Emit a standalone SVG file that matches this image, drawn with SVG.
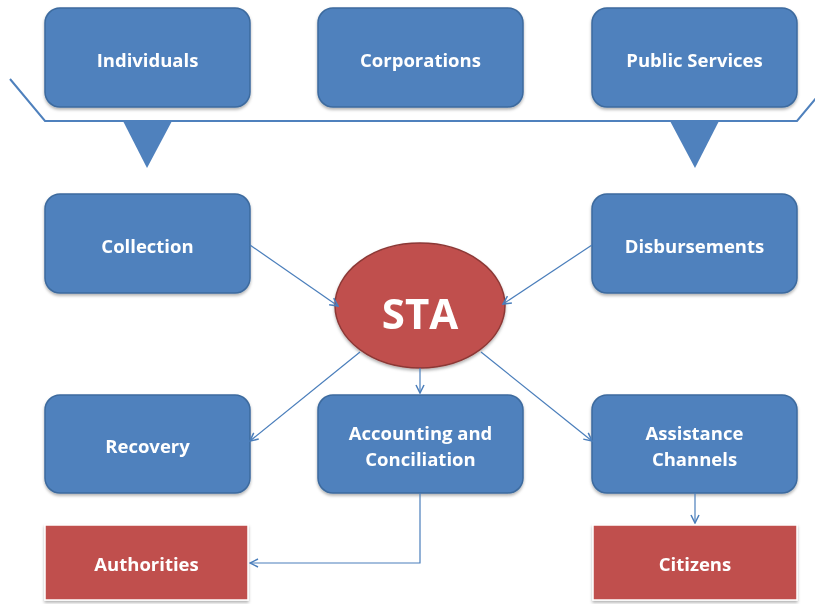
<svg xmlns="http://www.w3.org/2000/svg" width="815" height="604" viewBox="0 0 815 604">
  <style>
    .box { fill: #4f81bd; stroke: #3c6a9e; stroke-width: 1.5; }
    .red { fill: #c0504d; stroke: #ffffff; stroke-width: 1.5; }
    .lbl { font-family: "Open Sans", "Liberation Sans", sans-serif; font-weight: bold; font-size: 18.5px; fill: #ffffff; text-anchor: middle; }
    .conn { fill: none; stroke: #4a7ebb; stroke-width: 1.2; }
    .bracket { fill: none; stroke: #4f81bd; stroke-width: 2; }
  </style>
  <defs>
    <filter id="shadow" x="-10%" y="-10%" width="120%" height="130%">
      <feDropShadow dx="0" dy="2" stdDeviation="1.5" flood-color="#000000" flood-opacity="0.3"/>
    </filter>
    <marker id="arrow" viewBox="0 0 10 10" refX="9" refY="5" markerWidth="10" markerHeight="10" markerUnits="userSpaceOnUse" orient="auto">
      <path d="M1,1 L9,5 L1,9" fill="none" stroke="#4a7ebb" stroke-width="1.5"/>
    </marker>
  </defs>

  <!-- top sources -->
  <g id="individuals" filter="url(#shadow)">
    <rect class="box" x="45" y="8" width="205" height="99" rx="15"/>
    <text class="lbl" x="147.5" y="67">Individuals</text>
  </g>
  <g id="corporations" filter="url(#shadow)">
    <rect class="box" x="318" y="8" width="205" height="99" rx="15"/>
    <text class="lbl" x="420.5" y="67">Corporations</text>
  </g>
  <g id="public-services" filter="url(#shadow)">
    <rect class="box" x="592" y="8" width="205" height="99" rx="15"/>
    <text class="lbl" x="694.5" y="67">Public Services</text>
  </g>

  <!-- bracket with two pointers -->
  <g id="bracket">
    <path class="bracket" d="M10,79 L45,121 L797,121 L832,79"/>
    <polygon points="123,121 172,121 147,168" fill="#4f81bd"/>
    <polygon points="670,121 719,121 695,168" fill="#4f81bd"/>
  </g>

  <!-- middle row -->
  <g id="collection" filter="url(#shadow)">
    <rect class="box" x="45" y="194" width="205" height="99" rx="15"/>
    <text class="lbl" x="147.5" y="253">Collection</text>
  </g>
  <g id="disbursements" filter="url(#shadow)">
    <rect class="box" x="592" y="194" width="205" height="99" rx="15"/>
    <text class="lbl" x="694.5" y="253">Disbursements</text>
  </g>
  <g id="sta" filter="url(#shadow)">
    <ellipse cx="420" cy="305.5" rx="85" ry="62.5" fill="#c0504d" stroke="#8c3836" stroke-width="1.5"/>
    <text x="420" y="329" font-family="'Open Sans', 'Liberation Sans', sans-serif" font-weight="bold" font-size="42" fill="#ffffff" text-anchor="middle">STA</text>
  </g>

  <!-- bottom row -->
  <g id="recovery" filter="url(#shadow)">
    <rect class="box" x="45" y="395" width="205" height="98" rx="15"/>
    <text class="lbl" x="147.5" y="453">Recovery</text>
  </g>
  <g id="accounting" filter="url(#shadow)">
    <rect class="box" x="318" y="395" width="205" height="98" rx="15"/>
    <text class="lbl" x="420.5" y="440">Accounting and</text>
    <text class="lbl" x="420.5" y="466">Conciliation</text>
  </g>
  <g id="assistance" filter="url(#shadow)">
    <rect class="box" x="592" y="395" width="205" height="98" rx="15"/>
    <text class="lbl" x="694.5" y="440">Assistance</text>
    <text class="lbl" x="694.5" y="466">Channels</text>
  </g>
  <g id="authorities" filter="url(#shadow)">
    <rect class="red" x="45" y="525" width="203" height="75"/>
    <text class="lbl" x="146.5" y="571">Authorities</text>
  </g>
  <g id="citizens" filter="url(#shadow)">
    <rect class="red" x="593" y="525" width="204" height="75"/>
    <text class="lbl" x="695" y="571">Citizens</text>
  </g>

  <!-- connectors -->
  <g id="connectors">
    <line class="conn" x1="250" y1="245" x2="338" y2="306" marker-end="url(#arrow)"/>
    <line class="conn" x1="592" y1="245" x2="503" y2="304" marker-end="url(#arrow)"/>
    <line class="conn" x1="360" y1="352" x2="250" y2="441" marker-end="url(#arrow)"/>
    <line class="conn" x1="420" y1="368" x2="420" y2="393" marker-end="url(#arrow)"/>
    <line class="conn" x1="481" y1="352" x2="592" y2="441" marker-end="url(#arrow)"/>
    <polyline class="conn" points="420,493 420,563 250,563" marker-end="url(#arrow)"/>
    <line class="conn" x1="695" y1="493" x2="695" y2="523" marker-end="url(#arrow)"/>
  </g>
</svg>
